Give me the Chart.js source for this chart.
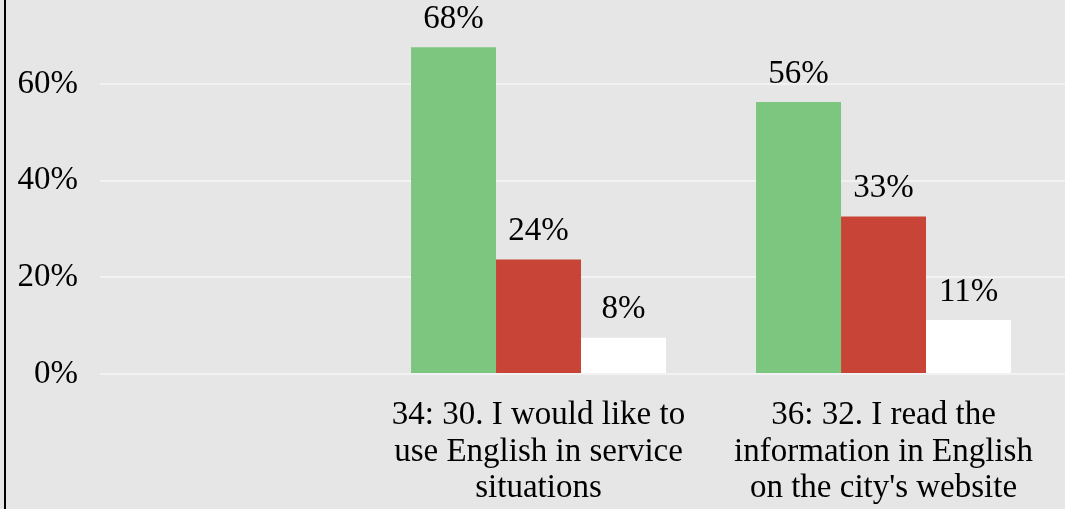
<!DOCTYPE html>
<html>
<head>
<meta charset="utf-8">
<script src="https://cdn.jsdelivr.net/npm/chart.js@4.4.0/dist/chart.umd.min.js"></script>
<style>
  html, body { margin: 0; padding: 0; background: #e6e6e6; }
  #wrap { width: 1065px; height: 509px; }
</style>
</head>
<body>
<div id="wrap"><canvas id="c" width="1065" height="509"></canvas></div>
<script>
// ---- data ----
const categories = [
  ["34: 30. I would like to", "use English in service", "situations"],
  ["36: 32. I read the", "information in English", "on the city's website"]
];
const categoryPositions = [1, 2];
const greenValues = [67.6, 56.3];
const redValues = [23.7, 32.6];
const whiteValues = [7.5, 11.2];
const yTicks = [0, 20, 40, 60];

const FONT = "'Liberation Serif', 'Times New Roman', serif";

function toPoints(vals) {
  return vals.map((v, i) => ({ x: categoryPositions[i], y: v }));
}

const bgPlugin = {
  id: 'bg',
  beforeDraw(chart) {
    const ctx = chart.ctx;
    ctx.save();
    ctx.fillStyle = '#e6e6e6';
    ctx.fillRect(0, 0, chart.width, chart.height);
    ctx.restore();
  },
  afterDraw(chart) {
    const ctx = chart.ctx;
    ctx.save();
    ctx.fillStyle = '#000';
    ctx.fillRect(4, 0, 2, chart.height);
    ctx.restore();
  }
};

const labelPlugin = {
  id: 'vlabels',
  afterDatasetsDraw(chart) {
    const ctx = chart.ctx;
    ctx.save();
    ctx.font = "33px " + FONT;
    ctx.fillStyle = '#000';
    ctx.textAlign = 'center';
    ctx.textBaseline = 'middle';
    chart.data.datasets.forEach((ds, di) => {
      const meta = chart.getDatasetMeta(di);
      meta.data.forEach((bar, i) => {
        const v = ds.data[i].y;
        ctx.fillText(Math.round(v) + '%', bar.x, bar.y - 28);
      });
    });
    ctx.restore();
  }
};

new Chart(document.getElementById('c'), {
  type: 'bar',
  data: {
    datasets: [
      { label: 'Green', data: toPoints(greenValues), backgroundColor: '#7cc67f' },
      { label: 'Red', data: toPoints(redValues), backgroundColor: '#c84437' },
      { label: 'White', data: toPoints(whiteValues), backgroundColor: '#ffffff' }
    ]
  },
  options: {
    responsive: false,
    animation: false,
    devicePixelRatio: 1,
    layout: { padding: { left: 18, right: 0, top: 0, bottom: 2 } },
    plugins: { legend: { display: false }, tooltip: { enabled: false } },
    datasets: { bar: { categoryPercentage: 0.739, barPercentage: 1, borderWidth: 0 } },
    scales: {
      x: {
        type: 'linear',
        min: -0.271,
        max: 2.526,
        offset: false,
        grid: { display: false, drawTicks: false },
        border: { display: false },
        afterBuildTicks(scale) {
          scale.ticks = categoryPositions.map(v => ({ value: v }));
        },
        afterFit(scale) {
          scale.height = 133;
          scale.paddingLeft = 0;
          scale.paddingRight = 0;
        },
        ticks: {
          padding: 23,
          color: '#000',
          font: { family: FONT, size: 33, lineHeight: 1.11 },
          maxRotation: 0,
          autoSkip: false,
          callback(value) {
            const i = categoryPositions.indexOf(value);
            return i >= 0 ? categories[i] : '';
          }
        }
      },
      y: {
        min: 0,
        max: 77.4,
        grid: { color: '#f2f2f2', lineWidth: 2, drawTicks: false },
        border: { display: false },
        afterBuildTicks(scale) {
          scale.ticks = yTicks.map(v => ({ value: v }));
        },
        afterFit(scale) {
          scale.width = 82;
          scale.paddingTop = 0;
          scale.paddingBottom = 0;
        },
        ticks: {
          padding: 22,
          color: '#000',
          font: { family: FONT, size: 33 },
          callback: v => v + '%'
        }
      }
    }
  },
  plugins: [bgPlugin, labelPlugin]
});
</script>
</body>
</html>
